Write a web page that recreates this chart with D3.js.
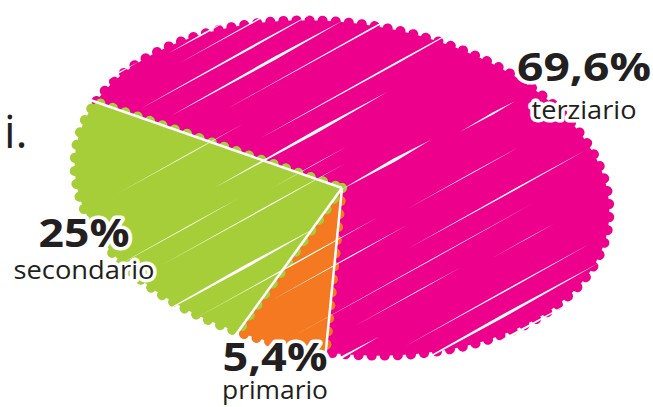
<!DOCTYPE html>
<html><head><meta charset="utf-8">
<script src="https://cdn.jsdelivr.net/npm/d3@7"></script>
<style>
html,body{margin:0;padding:0;background:#fff;}
svg{display:block;}
</style></head>
<body>
<svg id="chart" width="653" height="407"></svg>
<script>
// ---- data ----
const categories = ["terziario", "primario", "secondario"];
const values = [69.6, 5.4, 25];
const valueLabels = ["69,6%", "5,4%", "25%"];
const colors = ["#ec008c", "#f47920", "#a6ce39"];

// ---- layout ----
const W = 653, H = 407;
const cx = 342, cy = 188, rx = 269, ry = 165, tilt = 8 * Math.PI / 180;
const labelLayout = {
  terziario:  {x: 584, yNum: 81, yName: 119, numW: 134, nameW: 105},
  secondario: {x: 84,  yNum: 247, yName: 279, numW: 91,  nameW: 141},
  primario:   {x: 275, yNum: 371, yName: 399, numW: 105, nameW: 106}
};
const ink = "#231f20";

const svg = d3.select("#chart");

const pie = d3.pie().sort(null).value(d => d)
  .startAngle(-72 * Math.PI / 180).endAngle(288 * Math.PI / 180);
const arcs = pie(values);

const rScale = d3.scaleLinear().domain([0, 1]).range([0, rx]);
function proj(ang, r) {
  const x0 = r * Math.sin(ang), y0 = -r * Math.cos(ang) * ry / rx;
  return [cx + x0 * Math.cos(tilt) - y0 * Math.sin(tilt),
          cy + x0 * Math.sin(tilt) + y0 * Math.cos(tilt)];
}
function slicePoints(a, rr) {
  const pts = [proj(0, 0)];
  const n = Math.max(8, Math.ceil((a.endAngle - a.startAngle) / 0.02));
  for (let i = 0; i <= n; i++) {
    const t = a.startAngle + (a.endAngle - a.startAngle) * i / n;
    pts.push(proj(t, rScale(rr)));
  }
  return pts;
}
const line = d3.line().curve(d3.curveLinearClosed);

const defs = svg.append("defs");
defs.append("clipPath").attr("id", "pieClip")
  .append("path")
  .attr("d", line(slicePoints({startAngle: 0, endAngle: 2 * Math.PI}, 1.03)));

const g = svg.append("g");
// slices with scalloped, marker-like edge
g.selectAll("path.slice").data(arcs).join("path")
  .attr("class", "slice")
  .attr("d", d => line(slicePoints(d, 1)))
  .attr("fill", (d, i) => colors[i])
  .attr("stroke", (d, i) => colors[i])
  .attr("stroke-width", 10)
  .attr("stroke-linecap", "round")
  .attr("stroke-linejoin", "round")
  .attr("stroke-dasharray", "0.1 13");

// separators between slices (white gaps)
g.selectAll("line.sep").data(arcs).join("line")
  .attr("class", "sep")
  .attr("x1", proj(0, 0)[0]).attr("y1", proj(0, 0)[1])
  .attr("x2", d => proj(d.startAngle, rScale(1.06))[0])
  .attr("y2", d => proj(d.startAngle, rScale(1.06))[1])
  .attr("stroke", "#fff").attr("stroke-width", 2.5);

// scribble texture: thin white tapered streaks
const hatch = svg.append("g").attr("clip-path", "url(#pieClip)");
const dir = -29 * Math.PI / 180;
const ux = Math.cos(dir), uy = Math.sin(dir);
const nx = -uy, ny = ux;
const streaks = [];
let k = 0;
for (let off = -230; off <= 250; off += 21) {
  const h = Math.abs(Math.sin((k + 1) * 12.9898) * 43758.5453) % 1;
  const h2 = Math.abs(Math.sin((k + 3) * 4.1414) * 24634.634) % 1;
  const along = -250 + h * 300;
  const len = 90 + h2 * 190;
  const w = 0.8 + ((h * 7 + h2 * 3) % 1) * 2.8;
  streaks.push({off, along, len, w});
  if (k % 2 === 1) streaks.push({off: off + 7, along: along + len + 30, len: len * 0.6, w: w * 0.6});
  k++;
}
hatch.selectAll("path.streak").data(streaks).join("path")
  .attr("class", "streak")
  .attr("fill", "#fff")
  .attr("d", s => {
    const bx = cx + nx * s.off + ux * s.along, by = cy + ny * s.off + uy * s.along;
    const ex = bx + ux * s.len, ey = by + uy * s.len;
    const mx = bx + ux * s.len * 0.6, my = by + uy * s.len * 0.6;
    return `M${bx},${by}L${mx + nx * s.w / 2},${my + ny * s.w / 2}L${ex},${ey}L${mx - nx * s.w / 2},${my - ny * s.w / 2}Z`;
  });

// cut-off text at left
svg.append("text").attr("x", 4).attr("y", 148)
  .attr("font-family", "'Open Sans', sans-serif").attr("font-size", 46)
  .attr("fill", ink).text("i.");

// labels: one text element per slice, value + category as tspans
const fam = "'Open Sans', 'Noto Sans', sans-serif";
const lab = svg.append("g");
categories.forEach((c, i) => {
  const L = labelLayout[c];
  const t = lab.append("text")
    .attr("text-anchor", "middle")
    .attr("font-family", fam)
    .attr("fill", ink).attr("stroke", "#fff").attr("stroke-width", 7)
    .attr("stroke-linejoin", "round").attr("paint-order", "stroke");
  t.append("tspan").attr("x", L.x).attr("y", L.yNum)
    .attr("font-size", 40).attr("font-weight", 700)
    .attr("textLength", L.numW).attr("lengthAdjust", "spacingAndGlyphs")
    .text(valueLabels[i]);
  t.append("tspan").attr("x", L.x).attr("y", L.yName)
    .attr("font-size", 26).attr("font-weight", 400)
    .attr("textLength", L.nameW).attr("lengthAdjust", "spacingAndGlyphs")
    .text(c);
});
</script>
</body></html>
